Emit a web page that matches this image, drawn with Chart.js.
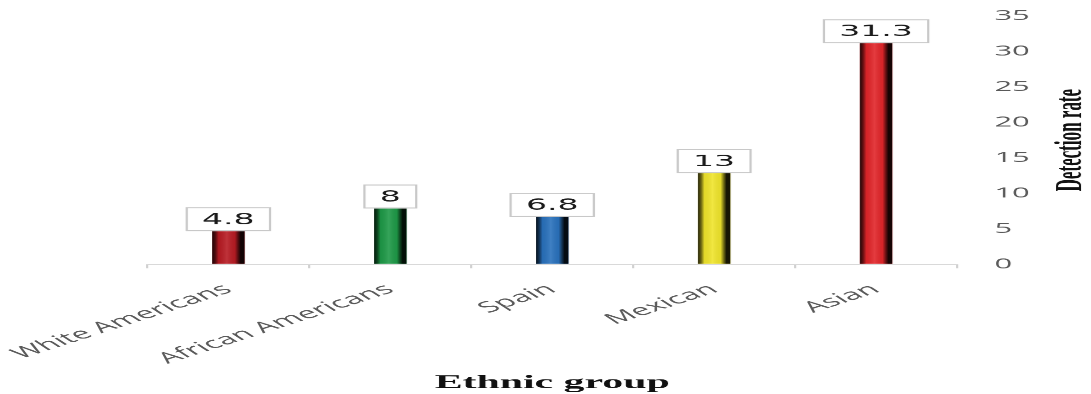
<!DOCTYPE html>
<html>
<head>
<meta charset="utf-8">
<script src="https://cdn.jsdelivr.net/npm/chart.js@4/dist/chart.umd.min.js"></script>
<style>
  html, body { margin: 0; padding: 0; background: #ffffff; overflow: hidden; }
  #wrap { width: 496px; height: 394px; transform: scaleX(2.19960); transform-origin: 0 0; }
</style>
</head>
<body>
<div id="wrap"><canvas id="c" width="496" height="394"></canvas></div>
<script>
// ---- data ----
const categories = ["White Americans", "African Americans", "Spain", "Mexican", "Asian"];
const detectionRates = [4.8, 8, 6.8, 13, 31.3];
const barColors = ["#b81c24", "#1f9a48", "#2a72bd", "#f0e52c", "#e2262a"];
const yTicks = [0, 5, 10, 15, 20, 25, 30, 35];
const xTitle = "Ethnic group";
const yTitle = "Detection rate";

// shading overlay + value boxes
const barDecor = {
  id: 'barDecor',
  afterDatasetsDraw(chart) {
    const ctx = chart.ctx;
    const meta = chart.getDatasetMeta(0);
    meta.data.forEach((el, i) => {
      const w = el.width, x0 = el.x - w / 2, x1 = el.x + w / 2;
      const top = Math.min(el.y, el.base), bot = Math.max(el.y, el.base);
      const g = ctx.createLinearGradient(x0, 0, x1, 0);
      g.addColorStop(0, 'rgba(0,0,0,0.85)');
      g.addColorStop(0.1, 'rgba(0,0,0,0.55)');
      g.addColorStop(0.2, 'rgba(0,0,0,0.05)');
      g.addColorStop(0.45, 'rgba(255,255,255,0.10)');
      g.addColorStop(0.7, 'rgba(0,0,0,0.05)');
      g.addColorStop(0.8, 'rgba(0,0,0,0.55)');
      g.addColorStop(0.88, 'rgba(0,0,0,0.9)');
      g.addColorStop(1, 'rgba(0,0,0,0.9)');
      ctx.save();
      ctx.fillStyle = g;
      ctx.fillRect(x0, top, w, bot - top);
      ctx.restore();
    });
    // value boxes
    meta.data.forEach((el, i) => {
      const txt = String(detectionRates[i]);
      ctx.save();
      ctx.font = '15px "DejaVu Sans"';
      const tw = ctx.measureText(txt).width;
      const bw = tw + 15, bh = 24;
      const bx = el.x - bw / 2, by = el.y - bh + 1;
      ctx.fillStyle = '#ffffff';
      ctx.fillRect(bx, by, bw, bh);
      ctx.strokeStyle = '#c8c8c8';
      ctx.lineWidth = 1;
      ctx.strokeRect(bx + 0.5, by + 0.5, bw - 1, bh - 1);
      ctx.fillStyle = '#1a1a1a';
      ctx.textAlign = 'center';
      ctx.textBaseline = 'middle';
      ctx.fillText(txt, el.x, by + bh / 2 + 1);
      ctx.restore();
    });
  },
  afterDraw(chart) {
    const ctx = chart.ctx;
    const ya = chart.scales.y;
    const area = chart.chartArea;
    ctx.save();
    ctx.translate(ya.right + 19, (area.top + area.bottom) / 2);
    ctx.rotate(-Math.PI / 2);
    ctx.font = 'bold 17px "Liberation Serif"';
    ctx.fillStyle = '#111111';
    ctx.textAlign = 'center';
    ctx.textBaseline = 'middle';
    ctx.fillText(yTitle, 0, 0);
    ctx.restore();
  }
};

new Chart(document.getElementById('c'), {
  type: 'bar',
  data: {
    labels: categories,
    datasets: [{
      data: detectionRates,
      backgroundColor: barColors,
      borderWidth: 0,
      barPercentage: 0.4,
      categoryPercentage: 0.5
    }]
  },
  options: {
    responsive: false,
    animation: false,
    devicePixelRatio: 2.2,
    layout: { padding: { left: 67, right: 28, top: 16, bottom: 0 } },
    plugins: { legend: { display: false }, tooltip: { enabled: false } },
    scales: {
      x: {
        grid: { display: true, drawOnChartArea: false, drawTicks: true, tickLength: 4, color: '#d0d0d0', offset: true },
        border: { display: true, color: '#d9d9d9', width: 1 },
        ticks: {
          autoSkip: false, minRotation: 35, maxRotation: 35, padding: 12,
          color: '#595959', font: { family: '"Open Sans"', size: 15 }
        },
        title: {
          display: true, text: xTitle, color: '#111111',
          font: { family: '"Liberation Serif"', size: 19, weight: 'bold' },
          padding: { top: 0, bottom: 0 }
        },
        afterFit: (s) => { s.height = 130; s.paddingLeft = 0; s.paddingRight = 0; }
      },
      y: {
        position: 'right',
        min: 0, max: 35,
        afterBuildTicks: (s) => { s.ticks = yTicks.map(v => ({ value: v })); },
        grid: { display: true, drawOnChartArea: false, drawTicks: true, tickLength: 11, color: 'rgba(0,0,0,0)' },
        border: { display: false },
        ticks: {
          padding: 6, color: '#595959', crossAlign: 'near',
          font: { family: '"Open Sans"', size: 14 }
        },
        afterFit: (s) => { s.width = 33; }
      }
    }
  },
  plugins: [barDecor]
});
</script>
</body>
</html>
